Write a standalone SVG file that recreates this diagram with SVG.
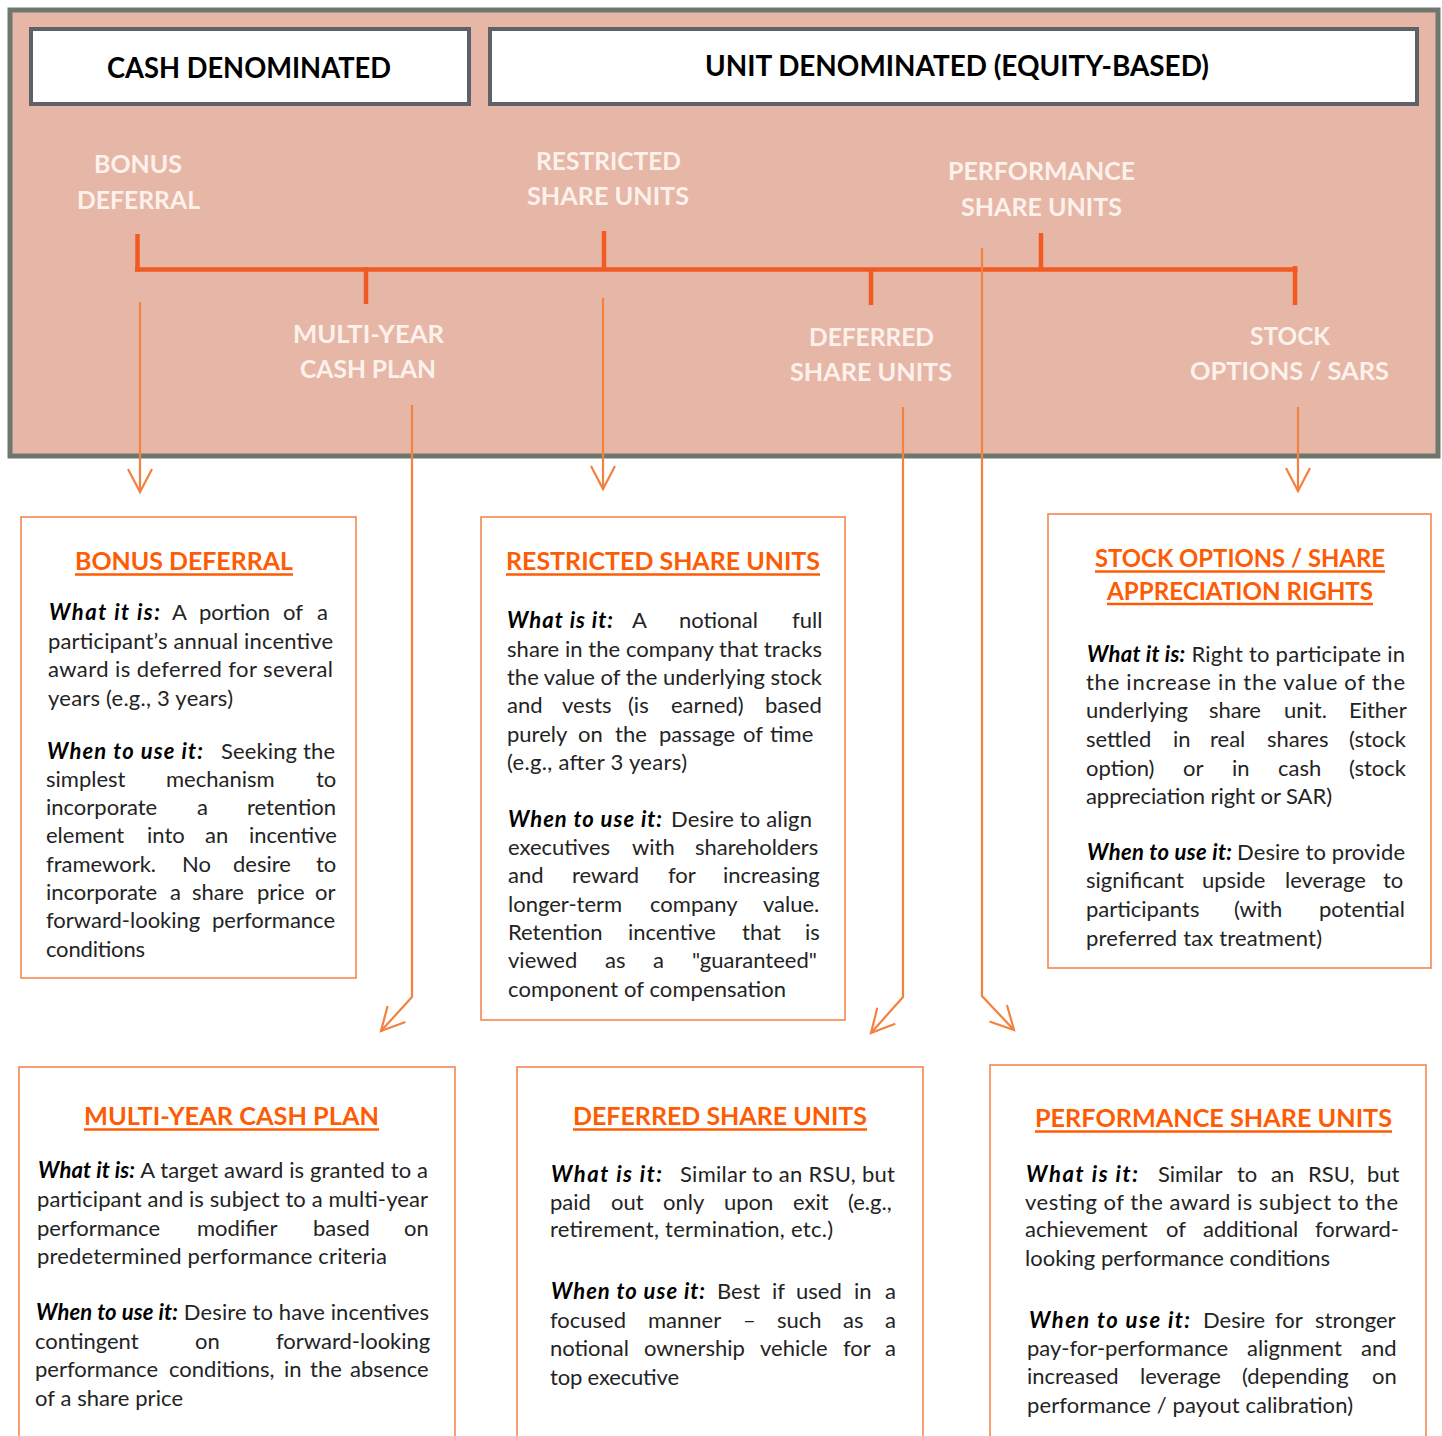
<svg xmlns="http://www.w3.org/2000/svg" width="1442" height="1436" viewBox="0 0 1442 1436">
<style>
text{font-family:Lato,"Liberation Sans",sans-serif}
.b{font-size:22px;fill:#232323}
.bi{font-weight:700;font-style:italic;fill:#000}
.ttl{font-size:25px;font-weight:700;fill:#fd5c04}
.ul{stroke:#fd5c04;stroke-width:2.5}
.lbl{font-size:25px;font-weight:700;fill:#fdf1ec}
.hdr{font-size:28px;font-weight:700;fill:#000}
.box{fill:#fff;stroke:#f4874f;stroke-width:1.6}
.hbox{fill:#fff;stroke:#5e6268;stroke-width:4}
.tl{stroke:#f15a22;stroke-width:4.5;fill:none}
.ar{stroke:#f5813f;stroke-width:2.2;fill:none}
</style>
<defs>
<marker id="ah" markerUnits="userSpaceOnUse" markerWidth="40" markerHeight="40" viewBox="-30 -20 40 40" refX="0" refY="0" orient="auto">
<path d="M-23,-12 L0,0 L-23,12" fill="none" stroke="#f5813f" stroke-width="2.2"/>
</marker>
</defs>
<rect width="1442" height="1436" fill="#fff"/>
<g id="panel">
<rect x="10" y="10" width="1428" height="446" fill="#e6b7a7" stroke="#6e776d" stroke-width="5"/>
</g>
<g id="hdr-cash">
<rect class="hbox" x="31" y="29" width="438" height="75"/>
<text class="hdr" x="107" y="78" textLength="284" lengthAdjust="spacingAndGlyphs">CASH DENOMINATED</text>
</g>
<g id="hdr-unit">
<rect class="hbox" x="490" y="29" width="927" height="75"/>
<text class="hdr" x="705" y="76" textLength="504" lengthAdjust="spacingAndGlyphs">UNIT DENOMINATED (EQUITY-BASED)</text>
</g>
<g id="lbl-bd">
<text class="lbl" x="94" y="173" textLength="88" lengthAdjust="spacingAndGlyphs">BONUS</text>
<text class="lbl" x="77" y="209" textLength="123" lengthAdjust="spacingAndGlyphs">DEFERRAL</text>
</g>
<g id="lbl-rsu">
<text class="lbl" x="536" y="170" textLength="145" lengthAdjust="spacingAndGlyphs">RESTRICTED</text>
<text class="lbl" x="527" y="205" textLength="162" lengthAdjust="spacingAndGlyphs">SHARE UNITS</text>
</g>
<g id="lbl-psu">
<text class="lbl" x="948" y="180" textLength="187" lengthAdjust="spacingAndGlyphs">PERFORMANCE</text>
<text class="lbl" x="961" y="216" textLength="161" lengthAdjust="spacingAndGlyphs">SHARE UNITS</text>
</g>
<g id="lbl-mycp">
<text class="lbl" x="293" y="343" textLength="151" lengthAdjust="spacingAndGlyphs">MULTI-YEAR</text>
<text class="lbl" x="300" y="378" textLength="136" lengthAdjust="spacingAndGlyphs">CASH PLAN</text>
</g>
<g id="lbl-dsu">
<text class="lbl" x="809" y="346" textLength="125" lengthAdjust="spacingAndGlyphs">DEFERRED</text>
<text class="lbl" x="790" y="381" textLength="162" lengthAdjust="spacingAndGlyphs">SHARE UNITS</text>
</g>
<g id="lbl-so">
<text class="lbl" x="1250" y="345" textLength="80" lengthAdjust="spacingAndGlyphs">STOCK</text>
<text class="lbl" x="1190" y="380" textLength="199" lengthAdjust="spacingAndGlyphs">OPTIONS / SARS</text>
</g>
<g id="connectors">
<path class="tl" d="M135,269.5 H1297.5"/>
<path class="tl" d="M137.5,234 V271.5"/>
<path class="tl" d="M366,267 V304"/>
<path class="tl" d="M604,231 V270"/>
<path class="tl" d="M871,268 V305"/>
<path class="tl" d="M1041,233 V270"/>
<path class="tl" d="M1295,266 V305"/>
<path class="ar" d="M140,302 V492" marker-end="url(#ah)"/>
<path class="ar" d="M603,298 V489" marker-end="url(#ah)"/>
<path class="ar" d="M412,405 V997 L381,1031" marker-end="url(#ah)"/>
<path class="ar" d="M903,407 V997 L871,1033" marker-end="url(#ah)"/>
<path class="ar" d="M982,248 V996 L1014,1030" marker-end="url(#ah)"/>
<path class="ar" d="M1298,407 V491" marker-end="url(#ah)"/>
</g>
<g id="box-bd">
<rect class="box" x="21" y="517" width="335" height="461"/>
<text class="ttl" x="75" y="570" textLength="218" lengthAdjust="spacingAndGlyphs">BONUS DEFERRAL</text>
<line class="ul" x1="75" y1="574.5" x2="293" y2="574.5"/>
<text class="b bi" x="49" y="620" textLength="111">What it is:</text>
<text class="b" y="620"><tspan x="172">A</tspan><tspan x="199">portion</tspan><tspan x="283">of</tspan><tspan x="317">a</tspan></text>
<text class="b" x="48" y="649" textLength="285">participant’s annual incentive</text>
<text class="b" x="48" y="677" textLength="285">award is deferred for several</text>
<text class="b" x="48" y="706" textLength="185">years (e.g., 3 years)</text>
<text class="b bi" x="47" y="759" textLength="156">When to use it:</text>
<text class="b" x="221" y="759" textLength="114">Seeking the</text>
<text class="b" y="787"><tspan x="46">simplest</tspan><tspan x="166">mechanism</tspan><tspan x="316">to</tspan></text>
<text class="b" y="815"><tspan x="46">incorporate</tspan><tspan x="197">a</tspan><tspan x="247">retention</tspan></text>
<text class="b" y="843"><tspan x="46">element</tspan><tspan x="147">into</tspan><tspan x="205">an</tspan><tspan x="249">incentive</tspan></text>
<text class="b" y="872"><tspan x="46">framework.</tspan><tspan x="182">No</tspan><tspan x="233">desire</tspan><tspan x="316">to</tspan></text>
<text class="b" y="900"><tspan x="46">incorporate</tspan><tspan x="170">a</tspan><tspan x="192">share</tspan><tspan x="257">price</tspan><tspan x="315">or</tspan></text>
<text class="b" y="928"><tspan x="46">forward-looking</tspan><tspan x="212">performance</tspan></text>
<text class="b" x="46" y="957" textLength="99">conditions</text>
</g>
<g id="box-rsu">
<rect class="box" x="481" y="517" width="364" height="503"/>
<text class="ttl" x="506" y="570" textLength="314" lengthAdjust="spacingAndGlyphs">RESTRICTED SHARE UNITS</text>
<line class="ul" x1="506" y1="574.5" x2="820" y2="574.5"/>
<text class="b bi" x="507" y="628" textLength="106">What is it:</text>
<text class="b" y="628"><tspan x="632">A</tspan><tspan x="679">notional</tspan><tspan x="792">full</tspan></text>
<text class="b" x="507" y="657" textLength="315">share in the company that tracks</text>
<text class="b" x="507" y="685" textLength="315">the value of the underlying stock</text>
<text class="b" y="713"><tspan x="507">and</tspan><tspan x="562">vests</tspan><tspan x="628">(is</tspan><tspan x="671">earned)</tspan><tspan x="765">based</tspan></text>
<text class="b" y="742"><tspan x="507">purely</tspan><tspan x="578">on</tspan><tspan x="615">the</tspan><tspan x="659">passage</tspan><tspan x="743">of</tspan><tspan x="770">time</tspan></text>
<text class="b" x="507" y="770" textLength="180">(e.g., after 3 years)</text>
<text class="b bi" x="508" y="827" textLength="154">When  to use it:</text>
<text class="b" x="671" y="827" textLength="141">Desire to align</text>
<text class="b" y="855"><tspan x="508">executives</tspan><tspan x="632">with</tspan><tspan x="695">shareholders</tspan></text>
<text class="b" y="883"><tspan x="508">and</tspan><tspan x="572">reward</tspan><tspan x="668">for</tspan><tspan x="723">increasing</tspan></text>
<text class="b" y="912"><tspan x="508">longer-term</tspan><tspan x="650">company</tspan><tspan x="763">value.</tspan></text>
<text class="b" y="940"><tspan x="508">Retention</tspan><tspan x="628">incentive</tspan><tspan x="742">that</tspan><tspan x="805">is</tspan></text>
<text class="b" y="968"><tspan x="508">viewed</tspan><tspan x="605">as</tspan><tspan x="653">a</tspan><tspan x="692">"guaranteed"</tspan></text>
<text class="b" x="508" y="997" textLength="278">component of compensation</text>
</g>
<g id="box-so">
<rect class="box" x="1048" y="514" width="383" height="454"/>
<text class="ttl" x="1095" y="567" textLength="290" lengthAdjust="spacingAndGlyphs">STOCK OPTIONS / SHARE</text>
<line class="ul" x1="1095" y1="571.5" x2="1385" y2="571.5"/>
<text class="ttl" x="1107" y="600" textLength="266" lengthAdjust="spacingAndGlyphs">APPRECIATION RIGHTS</text>
<line class="ul" x1="1107" y1="604" x2="1373" y2="604"/>
<text class="b" x="1087" y="662" textLength="318"><tspan class="bi">What it is:</tspan> Right to participate in</text>
<text class="b" x="1086" y="690" textLength="319">the increase in the value of the</text>
<text class="b" y="718"><tspan x="1086">underlying</tspan><tspan x="1209">share</tspan><tspan x="1284">unit.</tspan><tspan x="1349">Either</tspan></text>
<text class="b" y="747"><tspan x="1086">settled</tspan><tspan x="1173">in</tspan><tspan x="1210">real</tspan><tspan x="1267">shares</tspan><tspan x="1349">(stock</tspan></text>
<text class="b" y="776"><tspan x="1086">option)</tspan><tspan x="1183">or</tspan><tspan x="1232">in</tspan><tspan x="1278">cash</tspan><tspan x="1349">(stock</tspan></text>
<text class="b" x="1086" y="804" textLength="246">appreciation right or SAR)</text>
<text class="b bi" x="1087" y="860" textLength="145">When  to use it:</text>
<text class="b" x="1237" y="860" textLength="168">Desire to provide</text>
<text class="b" y="888"><tspan x="1086">significant</tspan><tspan x="1202">upside</tspan><tspan x="1285">leverage</tspan><tspan x="1383">to</tspan></text>
<text class="b" y="917"><tspan x="1086">participants</tspan><tspan x="1234">(with</tspan><tspan x="1319">potential</tspan></text>
<text class="b" x="1086" y="946" textLength="236">preferred tax treatment)</text>
</g>
<g id="box-mycp">
<rect class="box" x="19" y="1067" width="436" height="400"/>
<text class="ttl" x="84" y="1125" textLength="295" lengthAdjust="spacingAndGlyphs">MULTI-YEAR CASH PLAN</text>
<line class="ul" x1="84" y1="1129.5" x2="379" y2="1129.5"/>
<text class="b" x="38" y="1178" textLength="390"><tspan class="bi">What it is:</tspan> A target award is granted to a</text>
<text class="b" x="37" y="1207" textLength="391">participant and is subject to a multi-year</text>
<text class="b" y="1236"><tspan x="37">performance</tspan><tspan x="197">modifier</tspan><tspan x="313">based</tspan><tspan x="404">on</tspan></text>
<text class="b" x="37" y="1264" textLength="350">predetermined performance criteria</text>
<text class="b" x="36" y="1320" textLength="393"><tspan class="bi">When to use it:</tspan> Desire to have incentives</text>
<text class="b" y="1349"><tspan x="35">contingent</tspan><tspan x="195">on</tspan><tspan x="276">forward-looking</tspan></text>
<text class="b" y="1377"><tspan x="35">performance</tspan><tspan x="169">conditions,</tspan><tspan x="284">in</tspan><tspan x="310">the</tspan><tspan x="350">absence</tspan></text>
<text class="b" x="35" y="1406" textLength="148">of a share price</text>
</g>
<g id="box-dsu">
<rect class="box" x="517" y="1067" width="406" height="400"/>
<text class="ttl" x="573" y="1125" textLength="294" lengthAdjust="spacingAndGlyphs">DEFERRED SHARE UNITS</text>
<line class="ul" x1="573" y1="1129.5" x2="867" y2="1129.5"/>
<text class="b bi" x="551" y="1182" textLength="111">What is it:</text>
<text class="b" x="680" y="1182" textLength="215">Similar to an RSU, but</text>
<text class="b" y="1210"><tspan x="550">paid</tspan><tspan x="611">out</tspan><tspan x="663">only</tspan><tspan x="724">upon</tspan><tspan x="793">exit</tspan><tspan x="848">(e.g.,</tspan></text>
<text class="b" x="550" y="1237" textLength="283">retirement, termination, etc.)</text>
<text class="b bi" x="551" y="1299" textLength="154">When to use it:</text>
<text class="b" y="1299"><tspan x="717">Best</tspan><tspan x="772">if</tspan><tspan x="796">used</tspan><tspan x="854">in</tspan><tspan x="885">a</tspan></text>
<text class="b" y="1328"><tspan x="550">focused</tspan><tspan x="648">manner</tspan><tspan x="743">–</tspan><tspan x="777">such</tspan><tspan x="843">as</tspan><tspan x="885">a</tspan></text>
<text class="b" y="1356"><tspan x="550">notional</tspan><tspan x="644">ownership</tspan><tspan x="760">vehicle</tspan><tspan x="843">for</tspan><tspan x="885">a</tspan></text>
<text class="b" x="550" y="1385" textLength="129">top executive</text>
</g>
<g id="box-psu">
<rect class="box" x="990" y="1065" width="436" height="400"/>
<text class="ttl" x="1035" y="1127" textLength="357" lengthAdjust="spacingAndGlyphs">PERFORMANCE SHARE UNITS</text>
<line class="ul" x1="1035" y1="1131.5" x2="1392" y2="1131.5"/>
<text class="b bi" x="1026" y="1182" textLength="112">What is it:</text>
<text class="b" y="1182"><tspan x="1158">Similar</tspan><tspan x="1237">to</tspan><tspan x="1271">an</tspan><tspan x="1308">RSU,</tspan><tspan x="1367">but</tspan></text>
<text class="b" x="1025" y="1210" textLength="373">vesting of the award is subject to the</text>
<text class="b" y="1237"><tspan x="1025">achievement</tspan><tspan x="1166">of</tspan><tspan x="1203">additional</tspan><tspan x="1315">forward-</tspan></text>
<text class="b" x="1025" y="1266" textLength="305">looking performance conditions</text>
<text class="b bi" x="1029" y="1328" textLength="161">When to use it:</text>
<text class="b" y="1328"><tspan x="1203">Desire</tspan><tspan x="1275">for</tspan><tspan x="1315">stronger</tspan></text>
<text class="b" y="1356"><tspan x="1027">pay-for-performance</tspan><tspan x="1247">alignment</tspan><tspan x="1361">and</tspan></text>
<text class="b" y="1384"><tspan x="1027">increased</tspan><tspan x="1140">leverage</tspan><tspan x="1242">(depending</tspan><tspan x="1372">on</tspan></text>
<text class="b" x="1027" y="1413" textLength="326">performance / payout calibration)</text>
</g>
</svg>
